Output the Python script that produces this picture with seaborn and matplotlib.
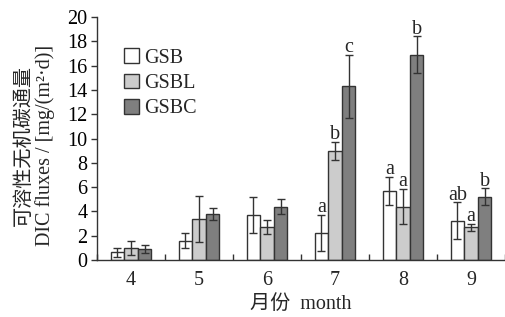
import numpy as np
import pandas as pd
import matplotlib
matplotlib.use("Agg")
import matplotlib.pyplot as plt
from matplotlib.container import BarContainer
import seaborn as sns

months = ["4", "5", "6", "7", "8", "9"]
treatments = ["GSB", "GSBL", "GSBC"]
gsb_mean = [0.65, 1.6, 3.7, 2.2, 5.7, 3.25]
gsb_err = [0.37, 0.6, 1.45, 1.5, 1.15, 1.5]
gsbl_mean = [1.0, 3.4, 2.7, 9.0, 4.4, 2.7]
gsbl_err = [0.6, 1.9, 0.58, 0.75, 1.45, 0.3]
gsbc_mean = [0.9, 3.8, 4.4, 14.3, 16.9, 5.2]
gsbc_err = [0.3, 0.5, 0.65, 2.6, 1.5, 0.7]
gsb_letters = ["", "", "", "a", "a", "ab"]
gsbl_letters = ["", "", "", "b", "a", "a"]
gsbc_letters = ["", "", "", "c", "b", "b"]
colors = ["#ffffff", "#cccccc", "#7f7f7f"]

sns.set_style("ticks")
plt.rcParams["font.family"] = ["Liberation Serif", "Noto Sans CJK SC"]
FS = 14.5
plt.rcParams["font.size"] = FS

means = [gsb_mean, gsbl_mean, gsbc_mean]
errs = [gsb_err, gsbl_err, gsbc_err]
letters = [gsb_letters, gsbl_letters, gsbc_letters]

rows = []
for t, m in zip(treatments, means):
    for mo, v in zip(months, m):
        rows.append({"month": mo, "treatment": t, "value": v})
df = pd.DataFrame(rows)

fig = plt.figure(figsize=(5.06, 3.17), dpi=100)
ax = fig.add_axes([97 / 506, (317 - 260) / 317, (505 - 97) / 506, (260 - 17) / 317])

sns.barplot(data=df, x="month", y="value", hue="treatment", order=months,
            hue_order=treatments, palette=colors, width=0.6, errorbar=None,
            edgecolor="#333333", linewidth=1.0, ax=ax, legend=True)

# error bars and letters from bar positions
bar_containers = [c for c in ax.containers if isinstance(c, BarContainer)]
for ci, cont in enumerate(bar_containers):
    for bi, patch in enumerate(cont.patches):
        xc = patch.get_x() + patch.get_width() / 2
        h = patch.get_height()
        e = errs[ci][bi]
        ax.errorbar(xc, h, yerr=e, fmt="none", ecolor="#333333",
                    elinewidth=1.0, capsize=3.2, capthick=1.0, zorder=5)
        lab = letters[ci][bi]
        if lab:
            ax.annotate(lab, (xc, h + e), xytext=(0, 2), textcoords="offset points",
                        ha="center", va="baseline", fontsize=FS)

ax.set_xlim(-0.5, 5.5)
ax.set_ylim(0, 20)
ax.set_yticks(np.arange(0, 21, 2))
ax.tick_params(axis="y", direction="out", length=4, width=1, colors="#333333",
               labelcolor="black", labelsize=FS, pad=3)
ax.tick_params(axis="x", which="major", length=0, labelsize=FS, pad=8)
ax.set_xticks(np.arange(-0.5, 5.6, 1), minor=True)
ax.tick_params(axis="x", which="minor", direction="in", length=4, width=1, colors="#333333")
for s in ["top", "right"]:
    ax.spines[s].set_visible(False)
for s in ["left", "bottom"]:
    ax.spines[s].set_color("#333333")
    ax.spines[s].set_linewidth(1.0)

ax.set_ylabel("可溶性无机碳通量\nDIC fluxes / [mg/(m²·d)]", fontsize=FS, linespacing=1.05)
ax.yaxis.set_label_coords(-0.103, 0.47)
ax.set_xlabel("月份  month", fontsize=FS)
ax.xaxis.set_label_coords(0.5, -0.145)

leg = ax.legend(loc="upper left", bbox_to_anchor=(0.047, 0.905), frameon=False,
                fontsize=FS, handlelength=0.75, handleheight=0.75, handletextpad=0.25,
                labelspacing=0.3, borderaxespad=0)
for h in leg.legend_handles:
    h.set_edgecolor("#333333")

fig.savefig("out.png", dpi=100)
